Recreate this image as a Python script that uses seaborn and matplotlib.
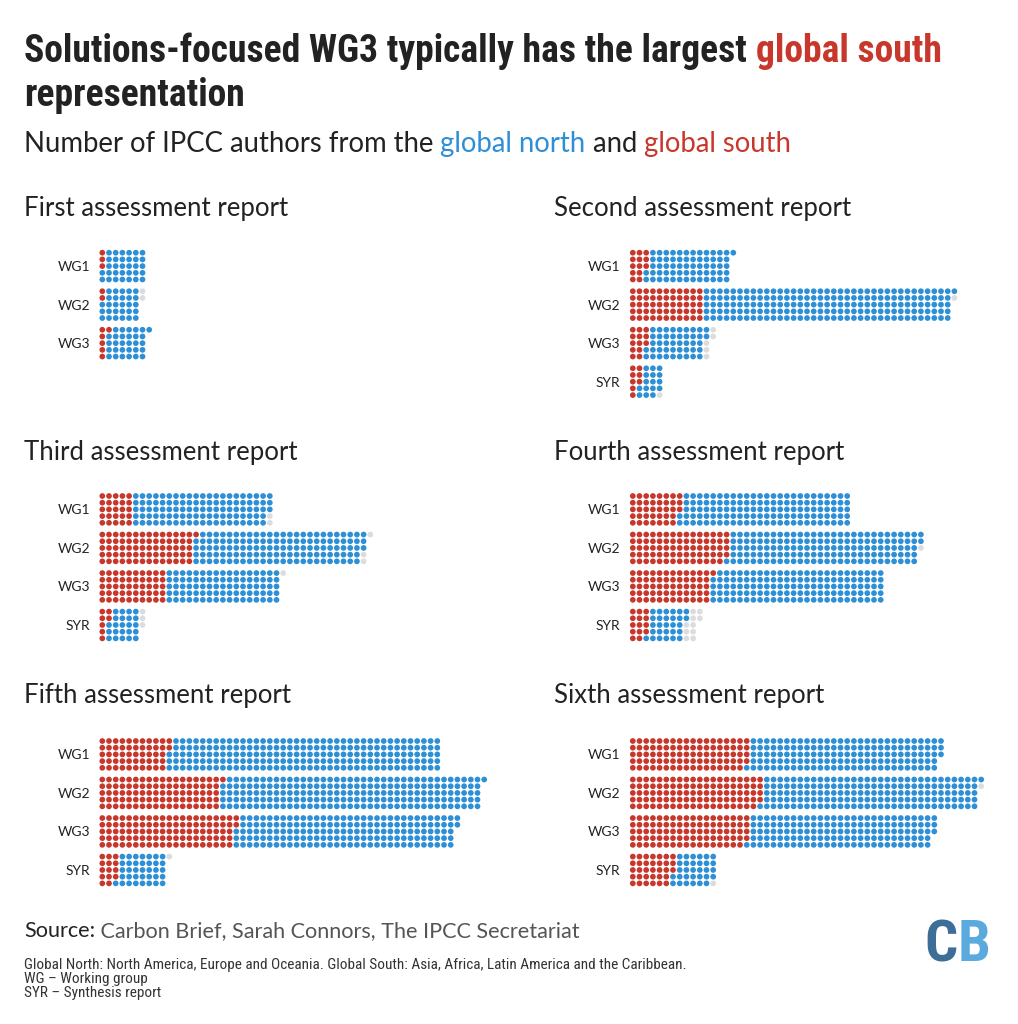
"""
IPCC authorship by region — dot grid per assessment report
Each dot is one author: global south (red), global north (blue), unknown (grey)
"""

import numpy as np
import pandas as pd
import matplotlib
matplotlib.use('Agg')
import matplotlib.pyplot as plt
import matplotlib.transforms as mtransforms
import seaborn as sns

W, H = 1018, 1024

RED   = '#c8372b'
BLUE  = '#2d8fd5'
GREY  = '#dcdcdc'
INK   = '#222222'
SOFT  = '#555555'
PALETTE = {'south': RED, 'north': BLUE, 'other': GREY}

TITLE_FONT = ['Roboto Condensed', 'Liberation Sans Narrow', 'DejaVu Sans']
BODY_FONT  = ['Lato', 'DejaVu Sans']

# ── Data: authors per working group ───────────────────────────
REPORTS = ['First assessment report', 'Second assessment report',
           'Third assessment report', 'Fourth assessment report',
           'Fifth assessment report', 'Sixth assessment report']
GROUPS  = ['WG1', 'WG2', 'WG3', 'SYR']

first_south  = [3, 2, 6]
first_north  = [32, 28, 30]
first_other  = [0, 2, 0]

second_south = [13, 55, 13, 8]
second_north = [63, 186, 44, 16]
second_other = [0, 1, 5, 1]

third_south  = [25, 71, 50, 7]
third_north  = [103, 127, 85, 23]
third_other  = [2, 3, 1, 3]

fourth_south = [38, 74, 61, 14]
fourth_north = [127, 143, 129, 28]
fourth_other = [0, 1, 0, 10]

fifth_south  = [52, 91, 102, 14]
fifth_north  = [203, 195, 165, 36]
fifth_other  = [0, 0, 0, 1]

sixth_south  = [89, 99, 89, 33]
sixth_north  = [144, 162, 139, 31]
sixth_other  = [0, 1, 0, 1]

SOUTH = [first_south, second_south, third_south, fourth_south, fifth_south, sixth_south]
NORTH = [first_north, second_north, third_north, fourth_north, fifth_north, sixth_north]
OTHER = [first_other, second_other, third_other, fourth_other, fifth_other, sixth_other]

# ── Layout ────────────────────────────────────────────────────
DOT_ROWS   = 5        # dots stacked per column, filled column by column
GROUP_STEP = 5.75     # rows between working-group blocks
STEP       = 6.7      # px between dots
PANEL_X    = [102.3, 632.8]          # first dot column (px)
PANEL_Y    = [252.7, 496.0, 741.0]   # first dot row (px)
TITLE_Y    = [216, 460, 703]         # panel title baselines (px)

# ── Build one row per author ──────────────────────────────────
records = []
for r, name in enumerate(REPORTS):
    for g in range(len(SOUTH[r])):
        seq = (['south'] * SOUTH[r][g] + ['north'] * NORTH[r][g]
               + ['other'] * OTHER[r][g])
        for i, origin in enumerate(seq):
            records.append({'report': name, 'group': GROUPS[g],
                            'col': i // DOT_ROWS,
                            'row': g * GROUP_STEP + i % DOT_ROWS,
                            'origin': origin})
dots = pd.DataFrame(records)

sns.set_style('white')
plt.rcParams['font.family'] = BODY_FONT

fig = plt.figure(figsize=(W / 100, H / 100), dpi=100)
fig.patch.set_facecolor('white')
renderer = fig.canvas.get_renderer()
PX = mtransforms.IdentityTransform()


def put(x, y, s, **kw):
    """Text in image pixel coords (y down), baseline anchored."""
    return fig.text(x, H - y, s, transform=PX, va='baseline', ha='left', **kw)


def measure(s, **kw):
    t = put(0, 0, s, **kw)
    w = t.get_window_extent(renderer).width
    t.remove()
    return w


def fit_size(s, width, size=20, **kw):
    return size * width / measure(s, fontsize=size, **kw)


def line(x, y, parts, size, **kw):
    # coloured pieces side by side; offsets from prefix width (keeps spaces)
    bar = measure('|', fontsize=size, **kw)
    prefix = ''
    for txt, col in parts:
        dx = measure(prefix + '|', fontsize=size, **kw) - bar if prefix else 0
        put(x + dx, y, txt, fontsize=size, color=col, **kw)
        prefix += txt


# ── Headline ──────────────────────────────────────────────────
tkw = dict(family=TITLE_FONT, fontweight='bold', fontstretch='condensed')
t1 = [('Solutions-focused WG3 typically has the largest ', INK), ('global south', RED)]
ts = min(fit_size(''.join(p for p, _ in t1), 916, **tkw), 30)
line(24, 62, t1, ts, **tkw)
line(24, 106, [('representation', INK)], ts, **tkw)

sub = [('Number of IPCC authors from the ', INK), ('global north', BLUE),
       (' and ', INK), ('global south', RED)]
ss = fit_size(''.join(p for p, _ in sub), 771, family=BODY_FONT)
line(24, 152, sub, ss, family=BODY_FONT)

# ── Panels ────────────────────────────────────────────────────
ps = fit_size('Second assessment report', 297, family=BODY_FONT)
for r, name in enumerate(REPORTS):
    cx, ry = PANEL_X[r % 2], PANEL_Y[r // 2]
    put(cx - 78.5, TITLE_Y[r // 2], name, fontsize=ps, color=INK, family=BODY_FONT)

    ax = fig.add_axes([(cx - STEP) / W, 1 - (ry - STEP + 23 * STEP) / H,
                       60 * STEP / W, 23 * STEP / H])
    sns.scatterplot(data=dots[dots['report'] == name], x='col', y='row',
                    hue='origin', palette=PALETTE, s=17, linewidth=0,
                    legend=False, ax=ax)
    n = len(SOUTH[r])
    ax.set_xlim(-1, 59); ax.set_ylim(22, -1)
    ax.set_xticks([])
    ax.set_yticks([g * GROUP_STEP + 2 for g in range(n)])
    ax.set_yticklabels(GROUPS[:n])
    ax.tick_params(axis='y', length=0, pad=4, labelsize=10, labelcolor=INK)
    ax.set_xlabel(''); ax.set_ylabel('')
    for sp in ax.spines.values():
        sp.set_visible(False)
    ax.patch.set_alpha(0)

# ── Source & notes ────────────────────────────────────────────
src = [('Source:', INK), (' Carbon Brief, Sarah Connors, The IPCC Secretariat', SOFT)]
srs = fit_size(''.join(p for p, _ in src), 559, family=BODY_FONT)
line(24, 937, src, srs, family=BODY_FONT)

nkw = dict(family=TITLE_FONT, fontstretch='condensed')
notes = ['Global North: North America, Europe and Oceania. Global South: Asia, '
         'Africa, Latin America and the Caribbean.',
         'WG \u2013 Working group',
         'SYR \u2013 Synthesis report']
ns = min(fit_size(notes[0], 716, **nkw), 11)
for i, txt in enumerate(notes):
    put(24, 969 + 14 * i, txt, fontsize=ns, color='#333333', **nkw)

# CB logo
lkw = dict(family=TITLE_FONT, fontweight='heavy', fontstretch='condensed')
line(924, 961, [('C', '#3d6e98'), ('B', '#5aaade')], 42, **lkw)

fig.savefig('out.png', dpi=100, facecolor='white')
plt.close(fig)
